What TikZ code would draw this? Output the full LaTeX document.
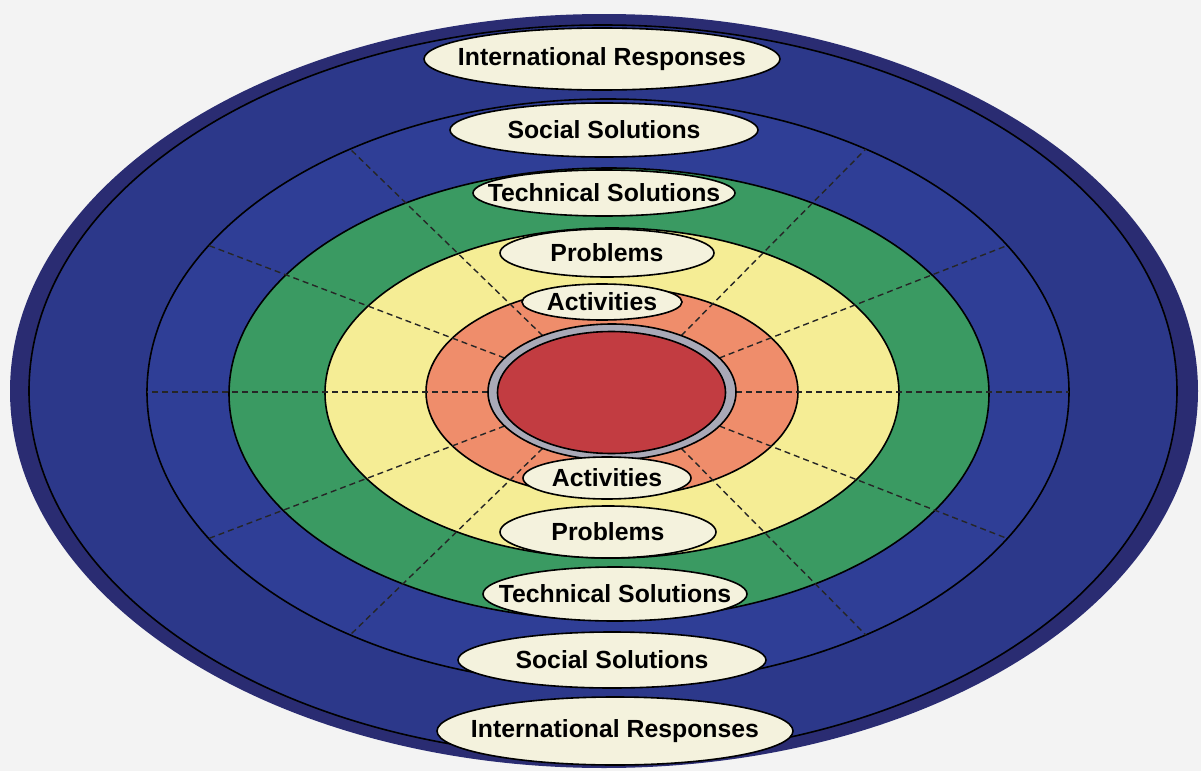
\documentclass[tikz,border=0pt]{standalone}
\usepackage{fontspec}
\setmainfont{Liberation Sans}
\usetikzlibrary{shapes.geometric,calc}
\definecolor{bg}{HTML}{F3F3F3}
\definecolor{navy}{HTML}{2A2C72}
\definecolor{blueA}{HTML}{2C388A}
\definecolor{blueB}{HTML}{2F3E96}
\definecolor{greenR}{HTML}{3A9A62}
\definecolor{yellowR}{HTML}{F5ED95}
\definecolor{salmonR}{HTML}{EF8D6B}
\definecolor{greyR}{HTML}{A9A9B7}
\definecolor{redR}{HTML}{C23C41}
\definecolor{cream}{HTML}{F4F2DD}
\begin{document}
\begin{tikzpicture}[x=0.5pt,y=-0.5pt,
  ring/.style={draw=black, line width=0.8pt},
  lab/.style={ellipse, draw=black, line width=0.8pt, fill=cream, inner sep=0pt,
    font=\fontsize{12.4}{14}\selectfont\bfseries},
  dashline/.style={dash pattern=on 3pt off 2pt, line width=0.7pt, draw=black!85}]
\fill[bg] (0,0) rectangle (1201,771);
\useasboundingbox (0,0) rectangle (1201,771);
% rings
\fill[navy] (604,391) ellipse [x radius=594, y radius=377];
\filldraw[ring, fill=blueA] (603,391) ellipse [x radius=574, y radius=366];
\filldraw[ring, fill=blueB] (608,392) ellipse [x radius=461, y radius=293];
\filldraw[ring, fill=greenR] (609,394) ellipse [x radius=380, y radius=226];
\filldraw[ring, fill=yellowR] (612,393) ellipse [x radius=287, y radius=165];
\filldraw[ring, fill=salmonR] (612,392) ellipse [x radius=186, y radius=105];
% dashed spokes
\coordinate (ci) at (612,392);
\coordinate (co) at (608,392);
\foreach \a in {0,30,56,124,150,180,210,236,304,330}{
  \coordinate (in\a) at ($(ci)+(\a:124 and 68)$);
  \coordinate (out\a) at ($(co)+(\a:461 and 293)$);
  \draw[dashline] (in\a) -- (out\a);
}
% core
\filldraw[ring, fill=greyR] (612,392) ellipse [x radius=124, y radius=68];
\filldraw[ring, fill=redR] (611.5,392.5) ellipse [x radius=114, y radius=61];
% labels top
\node[lab, minimum width=178pt, minimum height=31pt] (irt) at (602,59) {\makebox[0pt]{International Responses}};
\node[lab, minimum width=154pt, minimum height=27pt] (sst) at (604,130) {\makebox[0pt]{Social Solutions}};
\node[lab, minimum width=131pt, minimum height=23pt] (tst) at (604,193) {\makebox[0pt]{Technical Solutions}};
\node[lab, minimum width=107pt, minimum height=24pt] (prt) at (607,253) {\makebox[0pt]{Problems}};
\node[lab, minimum width=80pt, minimum height=18pt] (act) at (602,302) {\makebox[0pt]{Activities}};
% labels bottom
\node[lab, minimum width=84pt, minimum height=21pt] (acb) at (607,478) {\makebox[0pt]{Activities}};
\node[lab, minimum width=108pt, minimum height=26pt] (prb) at (608,532) {\makebox[0pt]{Problems}};
\node[lab, minimum width=132pt, minimum height=27pt] (tsb) at (615,594) {\makebox[0pt]{Technical Solutions}};
\node[lab, minimum width=154pt, minimum height=28pt] (ssb) at (612,660) {\makebox[0pt]{Social Solutions}};
\node[lab, minimum width=178pt, minimum height=34pt] (irb) at (615,731) {\makebox[0pt]{International Responses}};
\end{tikzpicture}
\end{document}
